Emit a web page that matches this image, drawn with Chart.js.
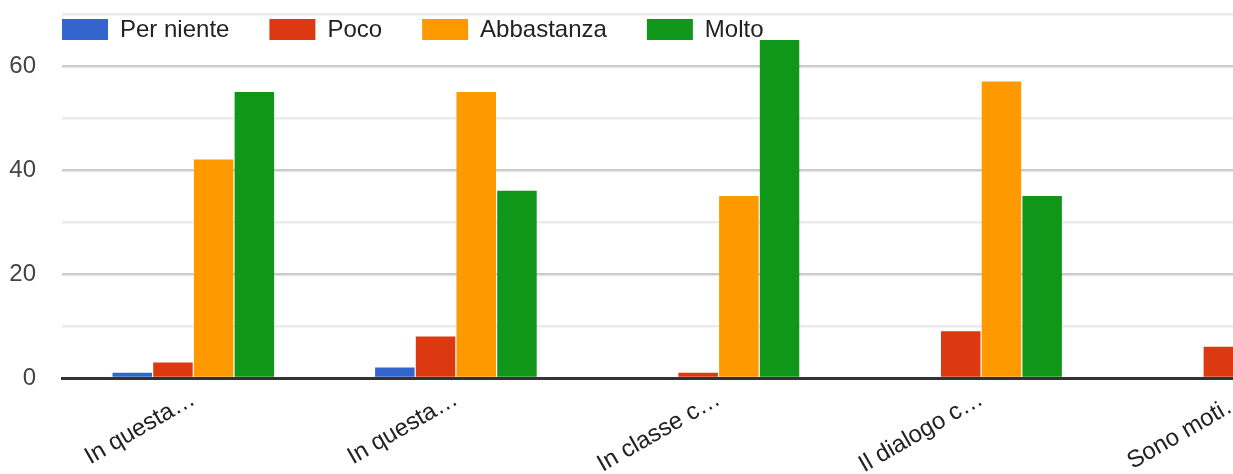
<!DOCTYPE html>
<html>
<head>
<meta charset="utf-8">
<script src="https://cdn.jsdelivr.net/npm/chart.js@4"></script>
<style>
  html, body { margin: 0; padding: 0; background: #fff; overflow: hidden; }
  #wrap { width: 1375px; height: 474px; position: relative; }
</style>
</head>
<body>
<div id="wrap"><canvas id="chart"></canvas></div>
<script>
// Data
const categories = ["In questa…", "In questa…", "In classe c…", "Il dialogo c…", "Sono moti…"];
const perNiente = [1, 2, 0, 0, 0];
const poco = [3, 8, 1, 9, 6];
const abbastanza = [42, 55, 35, 57, 50];
const molto = [55, 36, 65, 35, 45];
const yTicks = [0, 20, 40, 60];

const FONT = "'Liberation Sans', Arial, sans-serif";

// legend drawn inside the plot area, like the original
const insideLegend = {
    id: 'insideLegend',
    afterDraw(chart) {
        const ctx = chart.ctx;
        let x = chart.chartArea.left;
        ctx.save();
        ctx.font = '24px ' + FONT;
        ctx.textBaseline = 'middle';
        ctx.textAlign = 'left';
        chart.data.datasets.forEach(ds => {
            ctx.fillStyle = ds.backgroundColor;
            ctx.fillRect(x, 19, 46, 21);
            x += 46 + 12;
            ctx.fillStyle = '#222';
            ctx.fillText(ds.label, x, 30);
            x += ctx.measureText(ds.label).width + 40;
        });
        ctx.restore();
    }
};

const ctx = document.getElementById('chart').getContext('2d');
new Chart(ctx, {
    type: 'bar',
    data: {
        labels: categories,
        datasets: [
            { label: 'Per niente', data: perNiente, backgroundColor: '#3366cc' },
            { label: 'Poco', data: poco, backgroundColor: '#dc3912' },
            { label: 'Abbastanza', data: abbastanza, backgroundColor: '#ff9900' },
            { label: 'Molto', data: molto, backgroundColor: '#109618' }
        ]
    },
    options: {
        responsive: true,
        maintainAspectRatio: false,
        animation: false,
        layout: { padding: { top: 14, right: 0, left: 0, bottom: 0 } },
        datasets: { bar: { barPercentage: 0.97, categoryPercentage: 0.62 } },
        plugins: { legend: { display: false }, tooltip: { enabled: false } },
        scales: {
            x: {
                z: 1,
                grid: { display: false, drawTicks: false },
                border: { display: true, color: '#333', width: 3 },
                ticks: {
                    color: '#222',
                    font: { family: FONT, size: 24 },
                    maxRotation: 30, minRotation: 30,
                    autoSkip: false,
                    padding: 7
                },
                afterFit: s => { s.height = 96; s.paddingLeft = 0; s.paddingRight = 0; }
            },
            y: {
                min: 0, max: 70,
                border: { display: false },
                grid: {
                    drawTicks: false,
                    lineWidth: 2.5,
                    color: c => c.tick.value === 0 ? 'rgba(0,0,0,0)' : (yTicks.includes(c.tick.value) ? '#cccccc' : '#ebebeb')
                },
                ticks: {
                    stepSize: 10,
                    autoSkip: false,
                    padding: 26,
                    color: '#444',
                    font: { family: FONT, size: 24 },
                    callback: v => yTicks.includes(v) ? v : ''
                },
                afterFit: s => { s.width = 62; s.paddingTop = 0; s.paddingBottom = 0; }
            }
        }
    },
    plugins: [insideLegend]
});
</script>
</body>
</html>
